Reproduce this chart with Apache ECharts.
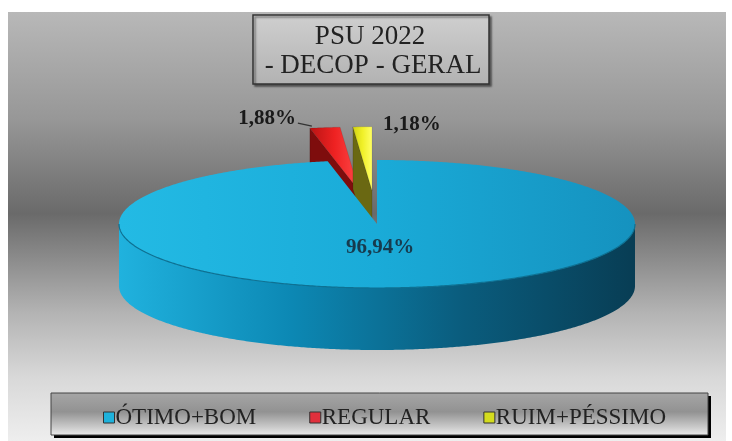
<!DOCTYPE html>
<html><head><meta charset="utf-8">
<script src="https://cdn.jsdelivr.net/npm/echarts@6/dist/echarts.min.js"></script>
<style>html,body{margin:0;padding:0;background:#fff}#c{width:732px;height:441px}</style>
</head><body><div id="c"></div>
<script>
// ---- data ----
const categories = ['ÓTIMO+BOM', 'REGULAR', 'RUIM+PÉSSIMO'];
const values = [96.94, 1.88, 1.18];
const titleLines = ['PSU 2022', '- DECOP - GERAL'];

// ---- styles / layout ----
const palette = [
  {top:['#23bae4','#1aabd8','#1592bf'], side:['#20b2de','#0c88b4','#0a5c7d','#083d54'], cut:'#0b6f92', legend:'#1eb2dc'},
  {top:['#b81414','#ee2222','#ff4848'], side:['#8a0e0e','#6a0808'], cut:'#7e0d0d', legend:'#e0303c'},
  {top:['#d0d014','#f0f028','#ffff66'], side:['#6f6f10','#5a5a08'], cut:'#6a6812', legend:'#d4dc1e'}
];
const explode = [0, 0.52, 0.52];
const labelMode = ['inside', 'left', 'right'];
const CX = 377, CY = 224, RX = 258, RY = 64, DEPTH = 62;
const FAMILY = "'Liberation Serif', 'Times New Roman', Times, serif";

const total = values.reduce((a, b) => a + b, 0);
const starts = []; let acc = 0;
values.forEach(v => { starts.push(acc / total * 360); acc += v; });

function pt(deg, dx, dy, down) {
  const r = deg * Math.PI / 180;
  return [CX + dx + RX * Math.sin(r), CY + dy - RY * Math.cos(r) + (down || 0)];
}
function arc(a, b, dx, dy, down) {
  const n = Math.max(2, Math.ceil(Math.abs(b - a) / 0.5));
  const out = [];
  for (let k = 0; k <= n; k++) out.push(pt(a + (b - a) * k / n, dx, dy, down));
  return out;
}
function fmt(v) { return v.toFixed(2).replace('.', ',') + '%'; }

function makeRender(i) {
  return function (params, api) {
    const v = api.value(0);
    const a0 = starts[i], a1 = a0 + v / total * 360;
    const mid = (a0 + a1) / 2 * Math.PI / 180;
    const dx = explode[i] * RX * Math.sin(mid), dy = -explode[i] * RY * Math.cos(mid);
    const zb = i === 0 ? 20 : i * 5;
    const pal = palette[i];
    const c = [CX + dx, CY + dy];
    const children = [];
    const s0 = Math.sin(a0 * Math.PI / 180), s1 = Math.sin(a1 * Math.PI / 180);
    if (s0 < -0.001) {
      const p = pt(a0, dx, dy);
      children.push({type:'polygon', z2: zb, shape:{points:[c, p, [p[0], p[1] + DEPTH], [c[0], c[1] + DEPTH]]},
        style:{fill: pal.cut, stroke: 'rgba(0,0,0,0.25)', lineWidth: 0.5}});
    }
    if (s1 > 0.001) {
      const p = pt(a1, dx, dy);
      children.push({type:'polygon', z2: zb, shape:{points:[c, p, [p[0], p[1] + DEPTH], [c[0], c[1] + DEPTH]]},
        style:{fill: pal.cut, stroke: 'rgba(0,0,0,0.25)', lineWidth: 0.5}});
    }
    const s = Math.max(a0, 90), e = Math.min(a1, 270);
    if (e > s) {
      const topArc = arc(s, e, dx, dy, 0);
      const botArc = arc(e, s, dx, dy, DEPTH);
      const stops = pal.side.map((col, k) => ({offset: k / (pal.side.length - 1), color: col}));
      children.push({type:'polygon', z2: zb + 1, shape:{points: topArc.concat(botArc)},
        style:{fill: {type:'linear', x:0, y:0, x2:1, y2:0, colorStops: stops}}});
      children.push({type:'polyline', z2: zb + 3, shape:{points: topArc},
        style:{stroke:'#0d7193', lineWidth: 1.2, fill: null}});
    }
    const topPts = [c].concat(arc(a0, a1, dx, dy, 0));
    const tstops = pal.top.map((col, k) => ({offset: k / (pal.top.length - 1), color: col}));
    children.push({type:'polygon', z2: zb + 2, shape:{points: topPts},
      style:{fill: {type:'linear', x:0, y:0, x2:1, y2:0, colorStops: tstops},
             stroke: i === 0 ? null : 'rgba(0,0,0,0.2)', lineWidth: 0.5}});
    const mode = labelMode[i];
    if (mode === 'inside') {
      children.push({type:'text', z2: 50, style:{text: fmt(v), x: CX + 3, y: CY + 24,
        font: 'bold 21px ' + FAMILY, fill: '#173b4e', align:'center', verticalAlign:'middle'}});
    } else if (mode === 'left') {
      const p = pt(a0, dx, dy);
      children.push({type:'text', z2: 50, style:{text: fmt(v), x: p[0] - 14, y: p[1] - 10,
        font: 'bold 21px ' + FAMILY, fill: '#1a1a1a', align:'right', verticalAlign:'middle'}});
      children.push({type:'line', z2: 50, shape:{x1: p[0] - 12, y1: p[1] - 5, x2: p[0] + 2, y2: p[1] - 2},
        style:{stroke:'#333', lineWidth: 1.2}});
    } else {
      const p = pt(a1, dx, dy);
      children.push({type:'text', z2: 50, style:{text: fmt(v), x: p[0] + 11, y: p[1] - 2,
        font: 'bold 21px ' + FAMILY, fill: '#1a1a1a', align:'left', verticalAlign:'middle'}});
    }
    return {type:'group', children};
  };
}

const chart = echarts.init(document.getElementById('c'), null, {renderer:'canvas'});
chart.setOption({
  animation: false,
  backgroundColor: '#ffffff',
  graphic: [
    {type:'rect', z:-10, shape:{x:8, y:12, width:718, height:429},
     style:{fill:{type:'linear', x:0, y:0, x2:0, y2:1, colorStops:[
       {offset:0, color:'#b8b8b8'}, {offset:0.25, color:'#979797'}, {offset:0.47, color:'#6a6a6a'},
       {offset:0.7, color:'#b3b3b3'}, {offset:0.85, color:'#d8d8d8'}, {offset:1, color:'#eeeeee'}]}}},
    {type:'rect', z:0, shape:{x:54, y:396, width:657, height:42}, style:{fill:'#000'}},
    {type:'rect', z:1, shape:{x:51, y:393, width:657, height:42},
     style:{stroke:'#444', lineWidth:1, fill:{type:'linear', x:0, y:0, x2:0, y2:1, colorStops:[
       {offset:0, color:'#a6a6a6'}, {offset:0.45, color:'#929292'}, {offset:0.8, color:'#c9c9c9'}, {offset:1, color:'#ececec'}]}}},
    {type:'rect', z:5, shape:{x:253, y:15, width:236, height:69},
     style:{stroke:'#333', lineWidth:1.5, shadowColor:'rgba(0,0,0,0.45)', shadowOffsetX:2, shadowOffsetY:2, shadowBlur:2,
       fill:{type:'linear', x:0, y:0, x2:0, y2:1, colorStops:[{offset:0, color:'#cfcfcf'}, {offset:1, color:'#b2b2b2'}]}}},
    {type:'text', z:6, style:{text: titleLines[0], x:370, y:37, align:'center', verticalAlign:'middle',
      font: 'normal 27px ' + FAMILY, fill:'#222'}},
    {type:'text', z:6, style:{text: titleLines[1], x:373, y:66, align:'center', verticalAlign:'middle',
      font: 'normal 27px ' + FAMILY, fill:'#222'}}
  ],
  legend: {
    data: categories, left: 98, top: 401, itemWidth: 11, itemHeight: 11, itemGap: 53, icon: 'rect',
    itemStyle: {borderColor:'#333', borderWidth:1},
    textStyle: {fontFamily: FAMILY, fontWeight: 'normal', fontSize: 23, color:'#222', padding:[0,0,0,-4]}
  },
  series: categories.map((name, i) => ({
    type: 'custom', name: name, coordinateSystem: 'none', silent: true,
    itemStyle: {color: palette[i].legend},
    renderItem: makeRender(i),
    data: [[values[i]]]
  }))
});
</script></body></html>
